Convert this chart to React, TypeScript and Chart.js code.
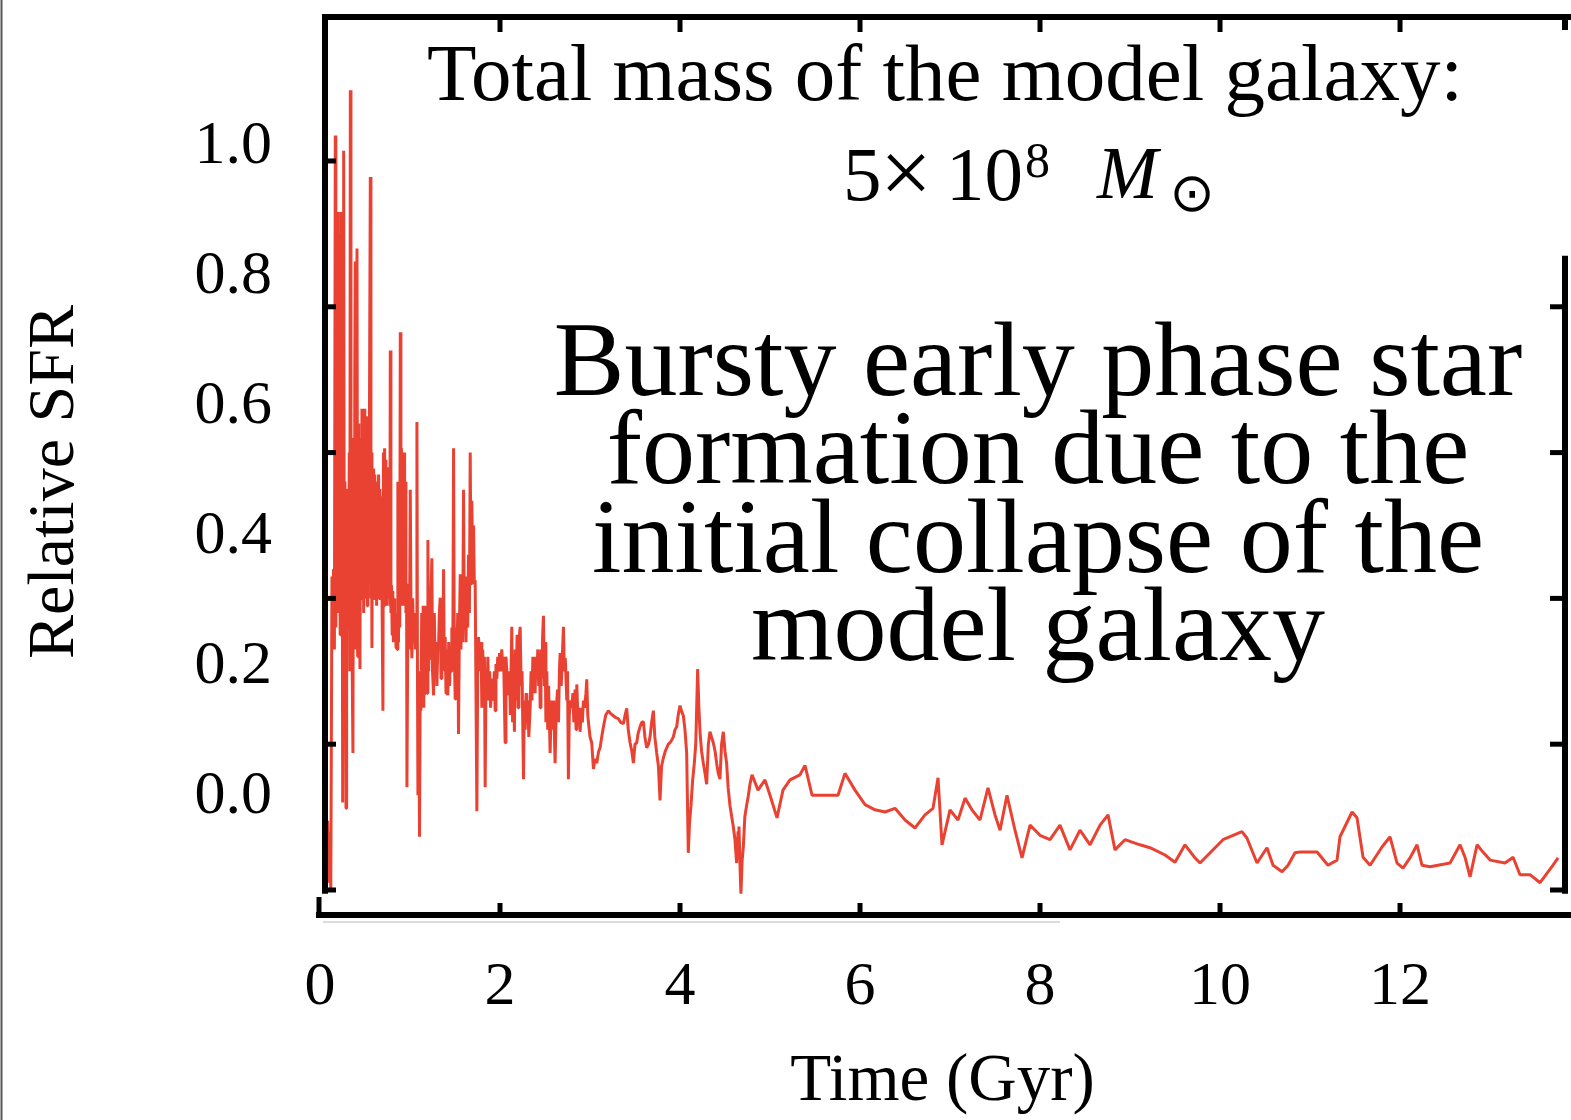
import React, { useEffect, useRef } from 'react';
import { Chart, registerables } from 'chart.js';

Chart.register(...registerables);

// ---- data (time in Gyr, relative star formation rate) ----
const burstPhase: [number, number][] = [
  [0.070, 0.000], [0.085, 0.095], [0.095, 0.010], [0.110, 0.080], [0.120, 0.000],
  [0.133, 0.430], [0.140, 0.350], [0.150, 0.440], [0.160, 0.330], [0.170, 1.035],
  [0.176, 0.360], [0.182, 0.560], [0.189, 0.930], [0.196, 0.380], [0.203, 0.900],
  [0.210, 0.420], [0.217, 0.880], [0.224, 0.350], [0.230, 0.930], [0.237, 0.400],
  [0.244, 0.780], [0.252, 0.120], [0.258, 0.500], [0.263, 1.014], [0.270, 0.380],
  [0.277, 0.560], [0.284, 0.340], [0.289, 0.112], [0.296, 0.550], [0.303, 0.400],
  [0.311, 0.540], [0.318, 0.360], [0.325, 0.600], [0.331, 0.300], [0.337, 1.097],
  [0.344, 0.420], [0.351, 0.560], [0.358, 0.300], [0.366, 0.188], [0.372, 0.620],
  [0.379, 0.340], [0.386, 0.700], [0.392, 0.862], [0.399, 0.330], [0.405, 0.600],
  [0.411, 0.880], [0.418, 0.320], [0.424, 0.640], [0.431, 0.318], [0.438, 0.560],
  [0.444, 0.303], [0.451, 0.620], [0.458, 0.400], [0.466, 0.660], [0.472, 0.420],
  [0.479, 0.640], [0.485, 0.380], [0.492, 0.660], [0.498, 0.400], [0.505, 0.640],
  [0.512, 0.440], [0.518, 0.650], [0.525, 0.390], [0.532, 0.620], [0.540, 0.420],
  [0.548, 0.600], [0.559, 0.978], [0.566, 0.400], [0.572, 0.600], [0.577, 0.332],
  [0.584, 0.560], [0.590, 0.410], [0.596, 0.578], [0.603, 0.400], [0.609, 0.570],
  [0.616, 0.420], [0.622, 0.556], [0.629, 0.390], [0.636, 0.560], [0.643, 0.410],
  [0.651, 0.570], [0.658, 0.400], [0.665, 0.550], [0.672, 0.420], [0.680, 0.540],
  [0.690, 0.390], [0.699, 0.246], [0.705, 0.600], [0.712, 0.390], [0.718, 0.606],
  [0.725, 0.400], [0.732, 0.590], [0.740, 0.390], [0.750, 0.580], [0.760, 0.400],
  [0.768, 0.520], [0.776, 0.390], [0.781, 0.740], [0.788, 0.380], [0.795, 0.418],
  [0.802, 0.350], [0.809, 0.410], [0.816, 0.340], [0.823, 0.400], [0.830, 0.340],
  [0.837, 0.380], [0.845, 0.332], [0.852, 0.370], [0.858, 0.330], [0.865, 0.560],
  [0.872, 0.340], [0.880, 0.500], [0.886, 0.360], [0.892, 0.765], [0.899, 0.390],
  [0.905, 0.606], [0.912, 0.400], [0.919, 0.560], [0.926, 0.390], [0.934, 0.600],
  [0.940, 0.420], [0.947, 0.560], [0.955, 0.380], [0.962, 0.420], [0.966, 0.141],
  [0.975, 0.350], [0.984, 0.420], [0.993, 0.330], [1.003, 0.549], [1.012, 0.360],
  [1.021, 0.318], [1.030, 0.400], [1.040, 0.340], [1.050, 0.380], [1.060, 0.330],
  [1.070, 0.360], [1.077, 0.642], [1.083, 0.300], [1.088, 0.130], [1.097, 0.250],
  [1.106, 0.073], [1.114, 0.300], [1.121, 0.246], [1.130, 0.380], [1.138, 0.260],
  [1.146, 0.390], [1.153, 0.250], [1.160, 0.350], [1.168, 0.270], [1.177, 0.300],
  [1.185, 0.390], [1.192, 0.270], [1.199, 0.480], [1.207, 0.300], [1.215, 0.360],
  [1.225, 0.318], [1.233, 0.400], [1.243, 0.455], [1.250, 0.300], [1.262, 0.267],
  [1.270, 0.380], [1.280, 0.300], [1.290, 0.340], [1.299, 0.280], [1.308, 0.330],
  [1.317, 0.332],
];

const declinePhase: [number, number][] = [
  [1.326, 0.380], [1.336, 0.401], [1.345, 0.290], [1.354, 0.380], [1.363, 0.300],
  [1.373, 0.440], [1.380, 0.320], [1.391, 0.347], [1.400, 0.270], [1.410, 0.330],
  [1.420, 0.267], [1.430, 0.340], [1.440, 0.280], [1.447, 0.320], [1.456, 0.300],
  [1.465, 0.360], [1.475, 0.300], [1.484, 0.606], [1.492, 0.330], [1.502, 0.262],
  [1.510, 0.360], [1.520, 0.300], [1.530, 0.380], [1.539, 0.214], [1.548, 0.350],
  [1.558, 0.433], [1.566, 0.330], [1.576, 0.420], [1.585, 0.340], [1.595, 0.549],
  [1.604, 0.360], [1.613, 0.400], [1.622, 0.340], [1.632, 0.430], [1.641, 0.360],
  [1.650, 0.460], [1.660, 0.380], [1.669, 0.600], [1.678, 0.420], [1.687, 0.534],
  [1.697, 0.430], [1.706, 0.500], [1.715, 0.419], [1.724, 0.425], [1.743, 0.108],
  [1.752, 0.300], [1.761, 0.347], [1.770, 0.330], [1.780, 0.300], [1.790, 0.340],
  [1.798, 0.250], [1.808, 0.330], [1.818, 0.280], [1.827, 0.320], [1.835, 0.141],
  [1.845, 0.300], [1.855, 0.270], [1.865, 0.320], [1.875, 0.260], [1.885, 0.300],
  [1.895, 0.250], [1.909, 0.290], [1.918, 0.260], [1.928, 0.267], [1.937, 0.300],
  [1.946, 0.246], [1.955, 0.310], [1.965, 0.290], [1.975, 0.320], [1.983, 0.300],
  [1.995, 0.325], [2.005, 0.300], [2.020, 0.330], [2.030, 0.300], [2.040, 0.320],
  [2.057, 0.202], [2.066, 0.320], [2.076, 0.300], [2.094, 0.267], [2.105, 0.300],
  [2.115, 0.240], [2.131, 0.361], [2.140, 0.230], [2.150, 0.300], [2.160, 0.217],
  [2.168, 0.330], [2.178, 0.260], [2.190, 0.350], [2.200, 0.250], [2.210, 0.340],
  [2.224, 0.361], [2.235, 0.280], [2.245, 0.300], [2.261, 0.152], [2.270, 0.260],
  [2.280, 0.220], [2.290, 0.270], [2.298, 0.230], [2.310, 0.260], [2.320, 0.210],
  [2.335, 0.250], [2.345, 0.300], [2.355, 0.260], [2.365, 0.320], [2.372, 0.280],
  [2.380, 0.320], [2.390, 0.270], [2.400, 0.320], [2.409, 0.290], [2.420, 0.330],
  [2.430, 0.280], [2.440, 0.320], [2.446, 0.250], [2.455, 0.330], [2.465, 0.290],
  [2.474, 0.350], [2.483, 0.376], [2.492, 0.280], [2.501, 0.340], [2.510, 0.230],
  [2.520, 0.300], [2.530, 0.220], [2.540, 0.280], [2.557, 0.188], [2.570, 0.260],
  [2.580, 0.220], [2.595, 0.260], [2.612, 0.174], [2.625, 0.250], [2.640, 0.275],
  [2.650, 0.230], [2.660, 0.300], [2.668, 0.325], [2.680, 0.280], [2.692, 0.320],
  [2.705, 0.361], [2.715, 0.300], [2.725, 0.318], [2.742, 0.260], [2.750, 0.300],
  [2.760, 0.152], [2.770, 0.240], [2.785, 0.260], [2.797, 0.250], [2.810, 0.270],
  [2.820, 0.230], [2.834, 0.275], [2.845, 0.220], [2.853, 0.282], [2.865, 0.240],
  [2.878, 0.250], [2.890, 0.217], [2.905, 0.250], [2.915, 0.230], [2.927, 0.260],
  [2.940, 0.250], [2.955, 0.270], [2.964, 0.289], [2.975, 0.240], [2.982, 0.231],
  [3.000, 0.210], [3.019, 0.202], [3.038, 0.166], [3.055, 0.180], [3.075, 0.174],
  [3.095, 0.190], [3.112, 0.195], [3.130, 0.210], [3.149, 0.224], [3.175, 0.240],
  [3.204, 0.246], [3.230, 0.242], [3.260, 0.239], [3.290, 0.236], [3.315, 0.235],
  [3.340, 0.230], [3.371, 0.228], [3.390, 0.240], [3.408, 0.249], [3.425, 0.220],
  [3.445, 0.202], [3.465, 0.190], [3.482, 0.174], [3.500, 0.200], [3.519, 0.202],
  [3.535, 0.215], [3.556, 0.224], [3.575, 0.230], [3.593, 0.231], [3.610, 0.210],
  [3.630, 0.195], [3.650, 0.200], [3.667, 0.210], [3.685, 0.230], [3.704, 0.246],
  [3.720, 0.210], [3.741, 0.188], [3.760, 0.170], [3.778, 0.123], [3.795, 0.170],
  [3.815, 0.181], [3.835, 0.190], [3.852, 0.195], [3.870, 0.200], [3.889, 0.202],
  [3.905, 0.205], [3.926, 0.210], [3.945, 0.220], [3.963, 0.224], [3.980, 0.240],
  [4.000, 0.253], [4.018, 0.245], [4.037, 0.239], [4.055, 0.220], [4.074, 0.188],
  [4.092, 0.051], [4.105, 0.090], [4.122, 0.116], [4.140, 0.150], [4.159, 0.174],
  [4.175, 0.200], [4.196, 0.303], [4.210, 0.250], [4.222, 0.217], [4.240, 0.190],
  [4.259, 0.174], [4.278, 0.160], [4.296, 0.145], [4.315, 0.200], [4.333, 0.217],
  [4.350, 0.210], [4.370, 0.202], [4.390, 0.190], [4.407, 0.174], [4.425, 0.160],
  [4.444, 0.152], [4.462, 0.200], [4.481, 0.217], [4.500, 0.190], [4.518, 0.174],
  [4.535, 0.140], [4.555, 0.116], [4.575, 0.100], [4.592, 0.087], [4.610, 0.070],
  [4.629, 0.037], [4.645, 0.080], [4.655, 0.087], [4.670, 0.020], [4.677, -0.005],
  [4.690, 0.040], [4.703, 0.058], [4.720, 0.100], [4.740, 0.116], [4.760, 0.130],
  [4.777, 0.145],
];

const quiescentPhase: [number, number][] = [
  [4.800, 0.158], [4.867, 0.137], [4.944, 0.151], [5.000, 0.130], [5.078, 0.099],
  [5.144, 0.137], [5.222, 0.151], [5.333, 0.158], [5.389, 0.171], [5.467, 0.130],
  [5.556, 0.130], [5.667, 0.130], [5.756, 0.130], [5.833, 0.160], [5.944, 0.137],
  [6.056, 0.117], [6.167, 0.110], [6.278, 0.107], [6.389, 0.112], [6.500, 0.096],
  [6.611, 0.085], [6.722, 0.103], [6.811, 0.112], [6.867, 0.154], [6.911, 0.062],
  [7.000, 0.110], [7.089, 0.096], [7.167, 0.126], [7.244, 0.110], [7.333, 0.096],
  [7.422, 0.140], [7.500, 0.103], [7.556, 0.082], [7.633, 0.130], [7.722, 0.082],
  [7.800, 0.044], [7.889, 0.089], [8.000, 0.075], [8.111, 0.069], [8.222, 0.089],
  [8.333, 0.055], [8.444, 0.082], [8.556, 0.062], [8.667, 0.089], [8.756, 0.103],
  [8.833, 0.055], [8.944, 0.069], [9.111, 0.062], [9.222, 0.058], [9.389, 0.048],
  [9.500, 0.038], [9.611, 0.062], [9.722, 0.044], [9.778, 0.037], [10.033, 0.069],
  [10.244, 0.080], [10.300, 0.071], [10.411, 0.037], [10.522, 0.058], [10.589, 0.034],
  [10.689, 0.025], [10.756, 0.034], [10.833, 0.051], [10.889, 0.052], [11.078, 0.052],
  [11.200, 0.034], [11.300, 0.041], [11.333, 0.073], [11.467, 0.107], [11.522, 0.099],
  [11.589, 0.045], [11.667, 0.034], [11.800, 0.059], [11.889, 0.073], [11.967, 0.037],
  [12.033, 0.030], [12.111, 0.044], [12.189, 0.062], [12.244, 0.034], [12.333, 0.032],
  [12.556, 0.037], [12.667, 0.062], [12.722, 0.045], [12.778, 0.018], [12.856, 0.062],
  [12.922, 0.052], [13.000, 0.041], [13.167, 0.037], [13.256, 0.045], [13.333, 0.021],
  [13.444, 0.021], [13.556, 0.010], [13.700, 0.034], [13.756, 0.044],
];

// ---- axes / labels ----
const X_TICK_VALUES = [0, 2, 4, 6, 8, 10, 12];
const Y_TICK_LABEL_VALUES = [0, 0.2, 0.4, 0.6, 0.8, 1.0];
const FRAME_TICK_VALUES = [0, 0.2, 0.4, 0.6, 0.8, 1.0];
const X_TITLE = 'Time (Gyr)';
const Y_TITLE = 'Relative SFR';
const HEADER_TEXT = 'Total mass of the model galaxy:';
const MASS_PARTS = { mantissa: '5', times: '×', base: '10', exponent: '8', unit: 'M', sub: '⊙' };
const NOTE_LINES = [
  'Bursty early phase star',
  'formation due to the',
  'initial collapse of the',
  'model galaxy',
];

const SERIF = '"Liberation Serif", "Times New Roman", serif';
const LINE_RED = 'rgb(233, 66, 50)';

const zeroPadding = (s: any) => {
  s.paddingTop = 0;
  s.paddingBottom = 0;
  s.paddingLeft = 0;
  s.paddingRight = 0;
};

const decorPlugin = {
  id: 'decor',
  afterDatasetsDraw(chart: any) {
    const { ctx, chartArea: ca, scales } = chart;
    const xs = scales.x;
    const ys = scales.y;
    const seg = (x1: number, y1: number, x2: number, y2: number, w: number, color = '#000') => {
      ctx.save();
      ctx.strokeStyle = color;
      ctx.lineWidth = w;
      ctx.lineCap = 'butt';
      ctx.beginPath();
      ctx.moveTo(x1, y1);
      ctx.lineTo(x2, y2);
      ctx.stroke();
      ctx.restore();
    };
    const L = ca.left + 5;
    const R = ca.right;
    const T = ca.top;
    const B = ca.bottom;
    const frameBottom = ys.getPixelForValue(-0.005);
    const gapEnd = ys.getPixelForValue(0.87);
    // frame
    seg(L - 3, T, chart.width, T, 6);
    seg(L, T - 3, L, frameBottom, 6);
    seg(R, T - 3, R, T + 13, 6);
    seg(R, gapEnd, R, frameBottom, 6);
    // detached bottom axis
    seg(ca.left - 4, B, chart.width, B, 6);
    seg(ca.left - 1, B + 3, ca.left - 1, B - 18, 5);
    seg(ca.left + 3, B + 7, 1060, B + 7, 2, '#dcdcdc');
    // ticks
    X_TICK_VALUES.forEach((v) => {
      if (v === 0) return;
      const px = xs.getPixelForValue(v);
      seg(px, B, px, B - 12, 5);
      seg(px, T, px, T + 15, 5);
    });
    FRAME_TICK_VALUES.forEach((v) => {
      const py = ys.getPixelForValue(v);
      seg(L, py, L + 11, py, 5);
      if (py > gapEnd) seg(R, py, R - 15, py, 5);
    });
    // thin left page border
    seg(1.5, 0, 1.5, chart.height, 2, '#555');
  },
  afterDraw(chart: any) {
    const { ctx } = chart;
    ctx.save();
    ctx.fillStyle = '#000';
    ctx.textAlign = 'center';
    ctx.textBaseline = 'alphabetic';
    ctx.font = `81px ${SERIF}`;
    ctx.fillText(HEADER_TEXT, 945, 100);

    ctx.textAlign = 'left';
    ctx.font = `77px ${SERIF}`;
    ctx.fillText(MASS_PARTS.mantissa, 843, 200);
    ctx.font = `92px ${SERIF}`;
    ctx.fillText(MASS_PARTS.times, 880, 203);
    ctx.font = `77px ${SERIF}`;
    ctx.fillText(MASS_PARTS.base, 946, 200);
    ctx.font = `50px ${SERIF}`;
    ctx.fillText(MASS_PARTS.exponent, 1025, 177);
    ctx.font = `italic 73px ${SERIF}`;
    ctx.fillText(MASS_PARTS.unit, 1097, 198);
    ctx.textAlign = 'center';
    ctx.textBaseline = 'middle';
    ctx.font = `54px "DejaVu Sans", sans-serif`;
    ctx.fillText(MASS_PARTS.sub, 1192, 197);

    ctx.textBaseline = 'alphabetic';
    ctx.font = `106px ${SERIF}`;
    const baselines = [395, 483, 572, 660];
    NOTE_LINES.forEach((t, i) => ctx.fillText(t, 1038, baselines[i]));

    ctx.translate(56, 482);
    ctx.rotate(-Math.PI / 2);
    ctx.textBaseline = 'middle';
    ctx.font = `66px ${SERIF}`;
    ctx.fillText(Y_TITLE, 0, 0);
    ctx.restore();
  },
};

export default function App() {
  const canvasRef = useRef<HTMLCanvasElement | null>(null);

  useEffect(() => {
    const canvas = canvasRef.current;
    if (!canvas) return;
    const points = [...burstPhase, ...declinePhase, ...quiescentPhase].map(([x, y]) => ({ x, y }));
    const chart = new Chart(canvas, {
      type: 'line',
      data: {
        datasets: [
          {
            data: points,
            borderColor: LINE_RED,
            borderWidth: 3,
            pointRadius: 0,
            fill: false,
            tension: 0,
            borderJoinStyle: 'bevel',
            xAxisID: 'x',
            yAxisID: 'y',
          } as any,
        ],
      },
      options: {
        responsive: false,
        animation: false,
        devicePixelRatio: 1,
        layout: { autoPadding: false, padding: { top: 17, right: 6, left: 0, bottom: 0 } },
        plugins: {
          legend: { display: false },
          tooltip: { enabled: false },
          title: { display: false },
        },
        scales: {
          x: {
            type: 'linear',
            position: 'bottom',
            min: 0,
            max: 13.833,
            grid: { display: false, drawTicks: false },
            border: { display: false },
            afterBuildTicks: (s: any) => {
              s.ticks = X_TICK_VALUES.map((v) => ({ value: v }));
            },
            afterFit: (s: any) => {
              s.height = 205;
              zeroPadding(s);
            },
            ticks: {
              color: '#000',
              font: { family: SERIF, size: 62 },
              padding: 36,
              maxRotation: 0,
              autoSkip: false,
              callback: (v: any) => String(v),
            },
            title: {
              display: true,
              text: X_TITLE,
              color: '#000',
              font: { family: SERIF, size: 67 },
              padding: { top: 0, bottom: -3 },
            },
          },
          y: {
            type: 'linear',
            display: false,
            min: -0.0343,
            max: 1.1975,
            afterFit: zeroPadding,
          },
          yLabels: {
            type: 'linear',
            position: 'left',
            min: -0.1815,
            max: 1.2,
            grid: { display: false, drawTicks: false },
            border: { display: false },
            afterBuildTicks: (s: any) => {
              s.ticks = Y_TICK_LABEL_VALUES.map((v) => ({ value: v }));
            },
            afterFit: (s: any) => {
              s.width = 320;
              zeroPadding(s);
            },
            ticks: {
              color: '#000',
              font: { family: SERIF, size: 62 },
              padding: 48,
              autoSkip: false,
              callback: (v: any) => Number(v).toFixed(1),
            },
          },
        },
      } as any,
      plugins: [decorPlugin],
    });
    return () => chart.destroy();
  }, []);

  return (
    <div style={{ position: 'absolute', left: 0, top: 0, width: 1571, height: 1120, background: '#fff' }}>
      <canvas ref={canvasRef} width={1571} height={1120} style={{ display: 'block' }} />
    </div>
  );
}
